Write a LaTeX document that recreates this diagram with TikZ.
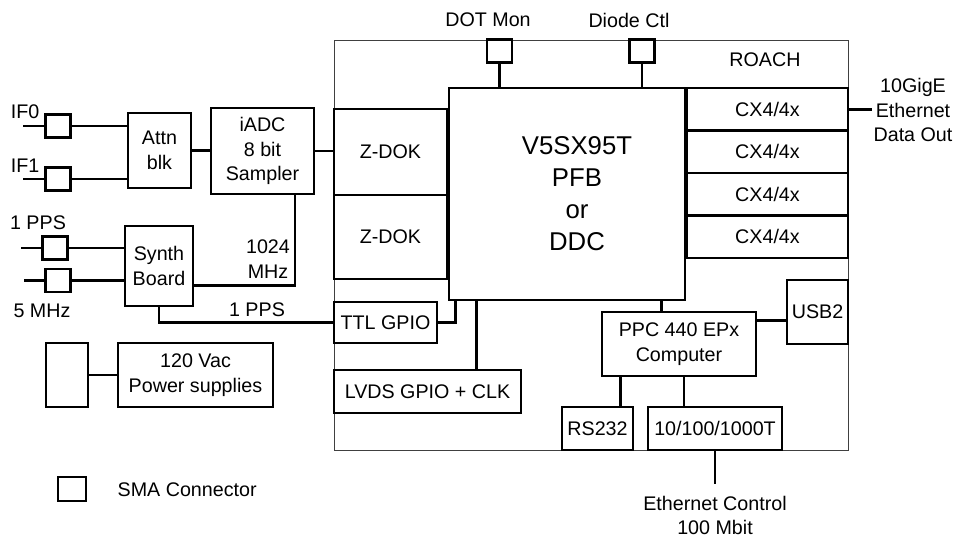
\documentclass[tikz,border=0pt]{standalone}
\usepackage{fontspec}
\setmainfont{Liberation Sans}
\usetikzlibrary{positioning, calc}
\tikzset{
  sz/.style 2 args={minimum width=#1*0.025cm, minimum height=#2*0.025cm},
  blk/.style={rectangle, draw, line width=2.1pt, align=center, inner sep=1pt},
  sma/.style={blk, sz={25}{23}, inner sep=0pt},
  lbl/.style={align=center, inner sep=1pt},
  wire/.style={line width=2.1pt},
}

\begin{document}
\begin{tikzpicture}[x=0.025cm, y=-0.025cm,
  font=\fontsize{14}{17.6}\selectfont,
  big/.style={font=\fontsize{18.3}{22.8}\selectfont}
]
  \useasboundingbox (0,0) rectangle (956,540);
  % ROACH board outline
  \node[draw=black!75, line width=0.7pt, sz={514}{410}] (roach) at (591,245) {};
  \node[lbl] (roachlbl) at (765,60) {ROACH};
  % FPGA
  \node[blk, sz={236}{212}] (fpga) at (567,194) {};
  \node[lbl, big] (fpgalbl) at (577,194) {V5SX95T\\PFB\\or\\DDC};
  % Z-DOK connectors
  \node[blk, sz={113}{86}] (zdoka) at (390.5,152) {Z-DOK};
  \node[blk, sz={113}{84}] (zdokb) at (390.5,237) {Z-DOK};
  % CX4 ports
  \foreach \i in {0,...,3}
    \node[blk, sz={161}{42.5}] (cx\i) at (767.5,109.25+42.5*\i) {CX4/4x};
  \node[lbl] (gige) at (913,110) {10GigE\\Ethernet\\Data Out};
  \draw[wire] (cx0.east) -- (cx0.east -| gige.west);
  % top SMA ports
  \node[sma] (dotsma) at (499.5,51) {};
  \node[sma] (diodesma) at (642,51) {};
  \node[lbl] (dotlbl) at (488,20) {DOT Mon};
  \node[lbl] (diodelbl) at (629,20) {Diode Ctl};
  \draw[wire] (dotsma.south) -- (dotsma.south |- fpga.north);
  \draw[wire] (diodesma.south) -- (diodesma.south |- fpga.north);
  % IF inputs
  \node[lbl] (if0lbl) at (25,112) {IF0};
  \node[lbl] (if1lbl) at (25,166) {IF1};
  \node[sma] (if0sma) at (58,126) {};
  \node[sma] (if1sma) at (58,179) {};
  \node[blk, sz={63}{75}] (attn) at (159.5,150.5) {Attn\\blk};
  \node[blk, sz={103}{86}] (iadc) at (262.5,151) {iADC\\8 bit\\Sampler};
  \coordinate (if0in) at (23,126);
  \coordinate (if1in) at (23,179);
  \draw[wire] (if0in) -- (if0sma.west) (if0sma.east) -- (if0sma.east -| attn.west);
  \draw[wire] (if1in) -- (if1sma.west) (if1sma.east) -- (if1sma.east -| attn.west);
  \draw[wire] (attn.east) -- (attn.east -| iadc.west);
  \draw[wire] (iadc.east) -- (iadc.east -| zdoka.west);
  % clock inputs
  \node[lbl] (ppslbl) at (38,223) {1 PPS};
  \node[lbl] (mhzlbl) at (42,311) {5 MHz};
  \node[sma] (ppssma) at (55,248) {};
  \node[sma] (mhzsma) at (58,280.5) {};
  \node[blk, sz={68}{80}] (synth) at (159,266) {Synth\\Board};
  \coordinate (ppsin) at (21,248);
  \coordinate (mhzin) at (24,280.5);
  \draw[wire] (ppsin) -- (ppssma.west) (ppssma.east) -- (ppssma.east -| synth.west);
  \draw[wire] (mhzin) -- (mhzsma.west) (mhzsma.east) -- (mhzsma.east -| synth.west);
  % 1024 MHz clock
  \draw[wire] ($(iadc.south)+(32.5,0)$) |- ($(synth.south east)+(0,-22)$);
  \node[lbl] (clklbl) at (268,259) {1024\\MHz};
  % GPIO
  \node[blk, sz={103}{41}] (ttl) at (385.5,322.5) {TTL GPIO};
  \node[blk, sz={187}{43}] (lvds) at (427.5,391.5) {LVDS GPIO + CLK};
  \draw[wire] (synth.south) |- (ttl.west);
  \node[lbl] (ttllbl) at (257,310) {1 PPS};
  \draw[wire] (ttl.east) -| ($(fpga.south west)+(8,0)$);
  \draw[wire] ($(fpga.south west)+(29,0)$) coordinate (lvdsup) -- (lvdsup |- lvds.north);
  % power
  \node[blk, sz={42}{64}] (plug) at (67,375) {};
  \node[blk, sz={155}{64}] (psu) at (195.5,375) {120 Vac\\Power supplies};
  \draw[wire] (plug) -- (psu);
  % PPC and its ports
  \node[blk, sz={154}{64}] (ppc) at (679,344) {PPC 440 EPx\\Computer};
  \node[blk, sz={61}{64}] (usb) at (817.5,312) {USB2};
  \node[blk, sz={71}{43}] (rs) at (597.5,428.5) {RS232};
  \node[blk, sz={134}{43}] (eth) at (715,428.5) {10/100/1000T};
  \draw[wire] ($(ppc.north west)+(61,0)$) coordinate (ppcup) -- (ppcup |- fpga.south);
  \draw[wire] ($(ppc.north east)+(0,10)$) coordinate (usbin) -- (usbin -| usb.west);
  \draw[wire] ($(ppc.south west)+(20,0)$) coordinate (rsup) -- (rsup |- rs.north);
  \draw[wire] ($(ppc.south)+(5,0)$) coordinate (ethup) -- (ethup |- eth.north);
  \draw[wire] (eth.south) -- ++(0,33) node[lbl, below=6pt] (ethlbl) {Ethernet Control\\100 Mbit};
  % legend
  \node[sma, sz={28}{24}] (legsma) at (72,489) {};
  \node[lbl, anchor=west] (leglbl) at (116,490) {SMA Connector};
\end{tikzpicture}
\end{document}
